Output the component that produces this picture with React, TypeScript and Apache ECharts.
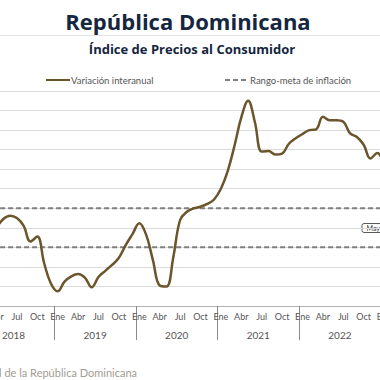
import React, { useEffect, useRef } from "react";
import * as echarts from "echarts";

const YEARS = ["2018", "2019", "2020", "2021", "2022", "2023"];
const MONTH_NAMES = ["Ene", "Feb", "Mar", "Abr", "May", "Jun", "Jul", "Ago", "Sep", "Oct", "Nov", "Dic"];
const MONTHS = YEARS.flatMap((y) => MONTH_NAMES.map((m) => m));

// Variación interanual del IPC (%), desde Ene 2018
const INFLATION: (number | null)[] = [
  // 2018
  null, null, null, 4.0, 4.45, 4.62, 4.5, 4.1, 3.3, 3.55, 2.2, 1.15,
  // 2019
  0.75, 1.25, 1.52, 1.64, 1.45, 0.96, 1.48, 1.8, 2.1, 2.47, 3.12, 3.68,
  // 2020
  4.23, 3.65, 2.35, 1.05, 1.0, 2.5, 4.4, 4.82, 5.0, 5.08, 5.22, 5.45,
  // 2021
  6.0, 6.9, 8.2, 9.65, 10.5, 9.4, 7.9, 7.93, 7.75, 7.8, 8.3, 8.58,
  // 2022
  8.8, 9.0, 9.04, 9.68, 9.5, 9.5, 9.43, 8.83, 8.65, 8.25, 7.55, 7.83,
  // 2023
  7.2,
];

const RANGE_LOW = 3;
const RANGE_HIGH = 5;

const TITLE = "República Dominicana";
const SUBTITLE = "Índice de Precios al Consumidor";
const SOURCE = "Fuente: Banco Central de la República Dominicana";
const BOX_LABEL = "Mayo 2023";

const FONT = "Lato, 'Noto Sans', sans-serif";
const TITLE_FONT = "'Open Sans', Lato, sans-serif";

// The visible 380px window shows a part of a wider chart.
const CHART_W = 560;
const OFFSET = 90;

export default function App() {
  const ref = useRef<HTMLDivElement>(null);

  useEffect(() => {
    if (!ref.current) return;
    const chart = echarts.init(ref.current, undefined, { renderer: "svg" });
    const dashStyle = { color: "#7f7f7f", width: 2, type: [5, 3] as any };
    const legendBase = {
      top: 75,
      padding: 0,
      itemWidth: 24,
      itemHeight: 10,
      itemStyle: { opacity: 0 },
      textStyle: { fontSize: 9.5, color: "#555555", fontFamily: FONT, padding: [0, 0, 0, -4] },
    };
    chart.setOption({
      animation: false,
      backgroundColor: "#ffffff",
      textStyle: { fontFamily: FONT },
      legend: [
        { ...legendBase, data: ["Variación interanual"], left: 45 + OFFSET },
        { ...legendBase, data: ["Rango-meta de inflación"], left: 224 + OFFSET },
      ],
      grid: { left: -27.3 + OFFSET, right: CHART_W - (462.3 + OFFSET), top: 91, bottom: 74, containLabel: false },
      xAxis: [
        {
          type: "category",
          data: MONTHS,
          boundaryGap: true,
          axisLine: { show: true, lineStyle: { color: "#b0b0b0", width: 1 } },
          axisTick: { show: false },
          axisLabel: {
            interval: (i: number) => i % 3 === 0,
            fontSize: 9,
            color: "#555555",
            margin: 6,
            fontFamily: FONT,
          },
        },
        {
          type: "category",
          data: YEARS,
          position: "bottom",
          boundaryGap: true,
          axisLine: { show: false },
          axisTick: { show: true, length: 34, alignWithLabel: false, interval: 0, lineStyle: { color: "#8a8a8a", width: 1 } },
          axisLabel: { fontSize: 10, color: "#555555", margin: 24, fontFamily: FONT },
          splitLine: { show: false },
        },
      ],
      yAxis: {
        type: "value",
        min: 0,
        max: 11,
        interval: 1,
        axisLabel: { show: false },
        axisLine: { show: false },
        axisTick: { show: false },
        splitLine: { show: true, lineStyle: { color: "#dcdcdc", width: 1 } },
      },
      series: [
        {
          name: "Rango-meta de inflación",
          type: "line",
          data: MONTHS.map(() => RANGE_HIGH),
          symbol: "none",
          lineStyle: dashStyle,
          itemStyle: { color: "#7f7f7f" },
          silent: true,
          z: 2,
        },
        {
          name: "Rango-meta de inflación",
          type: "line",
          data: MONTHS.map(() => RANGE_LOW),
          symbol: "none",
          lineStyle: dashStyle,
          itemStyle: { color: "#7f7f7f" },
          silent: true,
          z: 2,
        },
        {
          name: "Variación interanual",
          type: "line",
          data: INFLATION,
          smooth: 0.4,
          symbol: "none",
          connectNulls: false,
          lineStyle: { color: "#6b552c", width: 2.5 },
          itemStyle: { color: "#6b552c" },
          z: 3,
        },
      ],
      graphic: [
        {
          type: "text",
          x: 188 + OFFSET,
          y: 21,
          style: {
            text: TITLE,
            fontSize: 22,
            fontWeight: "bold",
            fontFamily: TITLE_FONT,
            fill: "#15263f",
            textAlign: "center",
            textVerticalAlign: "middle",
          },
        },
        {
          type: "line",
          shape: { x1: 0, y1: 35.5, x2: CHART_W, y2: 35.5 },
          style: { stroke: "#e2e2e2", lineWidth: 1 },
        },
        {
          type: "text",
          x: 192 + OFFSET,
          y: 49,
          style: {
            text: SUBTITLE,
            fontSize: 13,
            fontWeight: "bold",
            fontFamily: TITLE_FONT,
            fill: "#15263f",
            textAlign: "center",
            textVerticalAlign: "middle",
          },
        },
        {
          type: "text",
          x: 137 + OFFSET,
          y: 372,
          style: {
            text: SOURCE,
            fontSize: 11,
            fontFamily: FONT,
            fill: "#a19c92",
            textAlign: "right",
            textVerticalAlign: "middle",
          },
        },
        {
          type: "group",
          x: 362 + OFFSET,
          y: 223.5,
          children: [
            {
              type: "rect",
              shape: { x: 0, y: 0, width: 50, height: 9, r: 2 },
              style: { fill: "#ffffff", stroke: "#5a5a5a", lineWidth: 1 },
            },
            {
              type: "text",
              x: 4.5,
              y: 4.5,
              style: {
                text: BOX_LABEL,
                fontSize: 7,
                fontFamily: FONT,
                fill: "#333333",
                textVerticalAlign: "middle",
              },
            },
          ],
        },
      ],
    });
    return () => chart.dispose();
  }, []);

  return (
    <div style={{ position: "fixed", left: 0, top: 0, width: 380, height: 380, overflow: "hidden", background: "#fff" }}>
      <div ref={ref} style={{ position: "absolute", left: -OFFSET, top: 0, width: CHART_W, height: 380 }} />
    </div>
  );
}
